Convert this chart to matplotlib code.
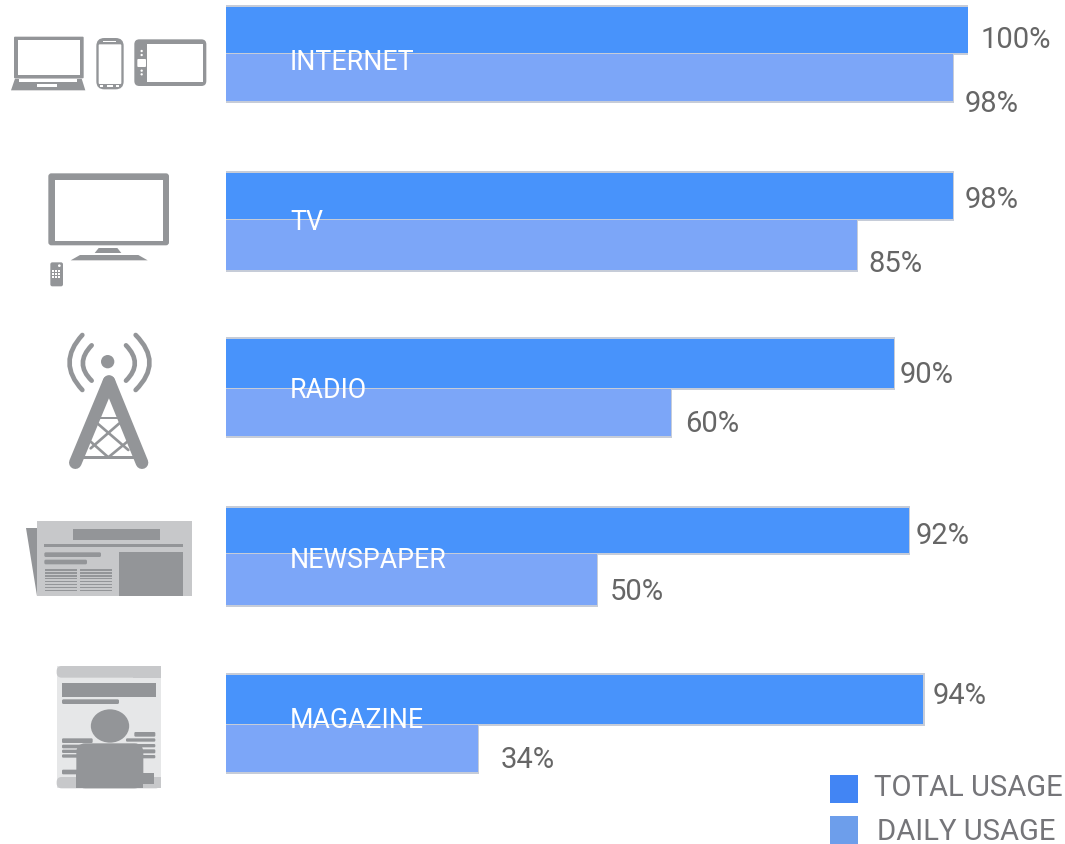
import matplotlib
matplotlib.use('Agg')
import matplotlib.pyplot as plt
from matplotlib.patches import Rectangle, FancyBboxPatch, Polygon, Circle, Ellipse, PathPatch
from matplotlib.path import Path

plt.rcParams['font.family'] = ['Roboto', 'DejaVu Sans']

media = ['INTERNET', 'TV', 'RADIO', 'NEWSPAPER', 'MAGAZINE']
total_usage = [100, 98, 90, 92, 94]
daily_usage = [98, 85, 60, 50, 34]

# bar rows in pixels: top of total bar, split between bars, bottom of daily bar
row_top = [7, 173, 339, 508, 675]
row_mid = [53, 219, 388, 553, 724]
row_bot = [101, 270, 436, 605, 772]
name_y = [63, 222, 391, 560, 720]
total_label_y = [40, 200, 375, 536, 696]
daily_label_y = [104, 264, 424, 592, 760]
total_label_gap = [13, 11, 6, 7, 9]
daily_label_gap = [11, 12, 14, 13, 22]

BAR_TOTAL = '#4893FB'
BAR_DAILY = '#7CA6F8'
BAR_EDGE = '#C6CCD8'
KEY_TOTAL = '#4285F4'
KEY_DAILY = '#6D9EEB'
ICON = '#939598'
ICON_LIGHT = '#C7C8CA'
ICON_PAGE = '#E6E7E8'
TEXT = '#666666'
PX = 72 / 100  # one pixel in points

fig = plt.figure(figsize=(10.65, 8.44), dpi=100)
bg = fig.add_axes([0, 0, 1, 1])
bg.set_xlim(0, 1065)
bg.set_ylim(844, 0)
bg.axis('off')

# bars live on their own axes so that 0-100 maps onto the bar track
ax = fig.add_axes([226 / 1065, 0, 742 / 1065, 1])
ax.set_xlim(0, 100)
ax.set_ylim(844, 0)
ax.axis('off')
ax.patch.set_alpha(0)

for i, name in enumerate(media):
    t0, m, b0 = row_top[i], row_mid[i], row_bot[i]
    ax.barh((t0 + m) / 2, total_usage[i] + 0.3, left=-0.15, height=m - t0 + 4, color=BAR_EDGE, lw=0, zorder=1)
    ax.barh((m + b0) / 2, daily_usage[i] + 0.3, left=-0.15, height=b0 - m + 4, color=BAR_EDGE, lw=0, zorder=1)
    ax.barh((m + b0) / 2, daily_usage[i], height=b0 - m - 1, color=BAR_DAILY, lw=0, zorder=2)
    ax.barh((t0 + m) / 2, total_usage[i], height=m - t0, color=BAR_TOTAL, lw=0, zorder=3)
    ax.annotate(f'{total_usage[i]}%', (total_usage[i], total_label_y[i]), xytext=(total_label_gap[i] * PX, 0),
                textcoords='offset points', va='center', ha='left', fontsize=21, color=TEXT, zorder=5)
    ax.annotate(f'{daily_usage[i]}%', (daily_usage[i], daily_label_y[i]), xytext=(daily_label_gap[i] * PX, 0),
                textcoords='offset points', va='center', ha='left', fontsize=21, color=TEXT, zorder=5)
    ax.annotate(name, (0, name_y[i]), xytext=(64 * PX, 0), textcoords='offset points',
                va='center', ha='left', fontsize=19.3, color='white', zorder=5)

# legend
bg.add_patch(Rectangle((830, 775), 28, 28, color=KEY_TOTAL, lw=0))
bg.add_patch(Rectangle((830, 816), 28, 28, color=KEY_DAILY, lw=0))
bg.text(874, 788, 'TOTAL USAGE', fontsize=21.1, color='#757579', va='center', ha='left')
bg.text(877, 832, 'DAILY USAGE', fontsize=21.1, color='#757579', va='center', ha='left')


def rect(x0, y0, x1, y1, color=ICON, radius=0, oy=0):
    # corners are given at 3x scale, oy shifts the icon down in pixels
    x0, y0, x1, y1 = x0 / 3, y0 / 3 + oy, x1 / 3, y1 / 3 + oy
    if radius:
        p = FancyBboxPatch((x0 + radius, y0 + radius), x1 - x0 - 2 * radius, y1 - y0 - 2 * radius,
                           boxstyle=f'round,pad={radius},rounding_size={radius}', fc=color, lw=0)
    else:
        p = Rectangle((x0, y0), x1 - x0, y1 - y0, fc=color, lw=0)
    bg.add_patch(p)


def poly(points, color=ICON, oy=0):
    bg.add_patch(Polygon([(x / 3, y / 3 + oy) for x, y in points], closed=True, fc=color, lw=0))


def dot(x, y, r, color=ICON, oy=0):
    bg.add_patch(Circle((x / 3, y / 3 + oy), r / 3, fc=color, lw=0))


def stroke(points, width, oy=0, curved=False, color=ICON):
    pts = [(x / 3, y / 3 + oy) for x, y in points]
    if curved:
        codes = [Path.MOVETO, Path.CURVE3, Path.CURVE3]
    else:
        codes = [Path.MOVETO] + [Path.LINETO] * (len(pts) - 1)
    bg.add_patch(PathPatch(Path(pts, codes), fc='none', ec=color, lw=width / 3 * PX, capstyle='round'))


# laptop
rect(42, 110, 251, 235, radius=1)
rect(54, 120, 241, 226, color='white')
poly([(33, 271), (45, 236), (245, 236), (256, 271)])
rect(58, 236, 232, 247, color='white')
rect(112, 252, 172, 260, color='white')

# phone
rect(289, 114, 371, 268, radius=8)
rect(296, 133, 364, 252, color='white', radius=1)
rect(310, 122, 348, 125, color='white')
rect(320, 255, 338, 262, color='white')
rect(300, 255, 310, 260, color='white')
rect(348, 255, 358, 260, color='white')

# tablet
rect(403, 118, 619, 258, radius=5)
rect(441, 131, 610, 246, color='white')
rect(412, 177, 438, 201, color='white', radius=1)
for cy in (153, 165, 212, 223):
    dot(425, cy, 3.5, color='white')

# tv and remote
rect(145, 520, 507, 736, radius=3)
rect(164, 540, 490, 722, color='white')
poly([(284, 759), (296, 744), (352, 744), (364, 759)])
poly([(212, 781), (240, 765), (415, 765), (443, 781)])
rect(151, 787, 189, 859, radius=2)
dot(178, 797, 4, color='white')
for cx in (158, 168, 178):
    for cy in (812, 822, 832):
        rect(cx - 3, cy - 3, cx + 3, cy + 3, color='white')

# radio tower
dot(323, 125, 20, oy=320)
stroke([(247, 45), (170, 128), (247, 210)], 14, oy=320, curved=True)
stroke([(407, 45), (490, 128), (407, 210)], 14, oy=320, curved=True)
stroke([(275, 76), (222, 130), (275, 182)], 14, oy=320, curved=True)
stroke([(378, 76), (431, 130), (378, 182)], 14, oy=320, curved=True)
stroke([(327, 185), (226, 428)], 38, oy=320)
stroke([(327, 185), (426, 428)], 38, oy=320)
rect(298, 290, 354, 298, oy=320)
rect(245, 408, 408, 416, oy=320)
stroke([(292, 310), (385, 390)], 8, oy=320)
stroke([(358, 310), (272, 385)], 8, oy=320)
stroke([(272, 365), (325, 412)], 8, oy=320)
stroke([(382, 365), (325, 412)], 8, oy=320)

# newspaper
poly([(78, 625), (112, 625), (112, 827)], oy=320)
rect(111, 603, 576, 827, color=ICON_LIGHT, oy=320)
rect(218, 627, 481, 660, oy=320)
rect(133, 672, 549, 681, oy=320)
rect(133, 697, 303, 711, radius=1.5, oy=320)
rect(133, 719, 261, 733, radius=1.5, oy=320)
rect(357, 696, 549, 827, oy=320)
for k in range(8):
    y = 748 + k * 8.8
    rect(135, y, 231, y + 4, oy=320)
    rect(239, y, 336, y + 4, oy=320)

# magazine
rect(170, 78, 482, 445, color=ICON_PAGE, oy=640)
rect(170, 78, 482, 113, color=ICON_LIGHT, radius=5, oy=640)
rect(400, 78, 482, 113, color=ICON_LIGHT, oy=640)
rect(170, 411, 482, 445, color=ICON_LIGHT, radius=5, oy=640)
rect(400, 411, 482, 445, color=ICON_LIGHT, oy=640)
rect(186, 129, 468, 171, oy=640)
rect(186, 178, 357, 192, radius=1.5, oy=640)
for x0, y0, x1, y1 in [(186, 295, 278, 309), (186, 314, 243, 325), (186, 329, 240, 339), (186, 343, 240, 353),
                       (186, 389, 240, 403), (403, 276, 466, 290), (378, 295, 466, 305), (400, 312, 466, 322),
                       (420, 328, 466, 340), (425, 345, 466, 355)]:
    rect(x0, y0, x1, y1, radius=1.2, oy=640)
bg.add_patch(Ellipse((330 / 3, 258 / 3 + 640), 115 / 3, 100 / 3, fc=ICON, lw=0))
rect(229, 310, 430, 445, radius=9, oy=640)
rect(229, 400, 430, 445, oy=640)
rect(425, 399, 462, 431, oy=640)

fig.savefig('out.png', dpi=100, facecolor='white')
